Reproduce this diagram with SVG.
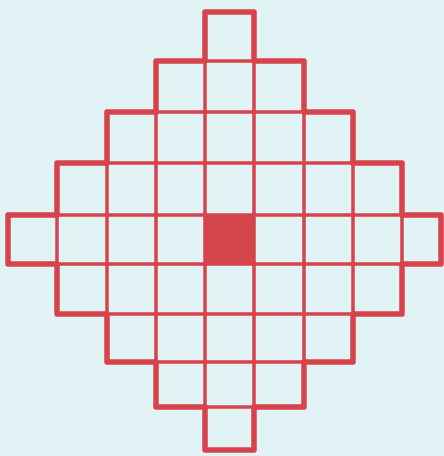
<svg xmlns="http://www.w3.org/2000/svg" width="444" height="456" viewBox="0 0 444 456">
<style>
.c{fill:none;stroke:#d8434b;stroke-width:3}
.o{fill:none;stroke:#d8434b;stroke-width:5.5;stroke-linejoin:round}
.f{fill:#d4474d;stroke:#d8434b;stroke-width:3}
</style>
<rect width="444" height="456" fill="#e2f3f5"/>
<g id="grid">
<rect class="c" x="205" y="12" width="49" height="49"/>
<rect class="c" x="156" y="61" width="49" height="51"/><rect class="c" x="205" y="61" width="49" height="51"/><rect class="c" x="254" y="61" width="50" height="51"/>
<rect class="c" x="107" y="112" width="49" height="51"/><rect class="c" x="156" y="112" width="49" height="51"/><rect class="c" x="205" y="112" width="49" height="51"/><rect class="c" x="254" y="112" width="50" height="51"/><rect class="c" x="304" y="112" width="49" height="51"/>
<rect class="c" x="57" y="163" width="50" height="52"/><rect class="c" x="107" y="163" width="49" height="52"/><rect class="c" x="156" y="163" width="49" height="52"/><rect class="c" x="205" y="163" width="49" height="52"/><rect class="c" x="254" y="163" width="50" height="52"/><rect class="c" x="304" y="163" width="49" height="52"/><rect class="c" x="353" y="163" width="49" height="52"/>
<rect class="c" x="8" y="215" width="49" height="49"/><rect class="c" x="57" y="215" width="50" height="49"/><rect class="c" x="107" y="215" width="49" height="49"/><rect class="c" x="156" y="215" width="49" height="49"/><rect class="f" x="205" y="215" width="49" height="49"/><rect class="c" x="254" y="215" width="50" height="49"/><rect class="c" x="304" y="215" width="49" height="49"/><rect class="c" x="353" y="215" width="49" height="49"/><rect class="c" x="402" y="215" width="39" height="49"/>
<rect class="c" x="57" y="264" width="50" height="50"/><rect class="c" x="107" y="264" width="49" height="50"/><rect class="c" x="156" y="264" width="49" height="50"/><rect class="c" x="205" y="264" width="49" height="50"/><rect class="c" x="254" y="264" width="50" height="50"/><rect class="c" x="304" y="264" width="49" height="50"/><rect class="c" x="353" y="264" width="49" height="50"/>
<rect class="c" x="107" y="314" width="49" height="48"/><rect class="c" x="156" y="314" width="49" height="48"/><rect class="c" x="205" y="314" width="49" height="48"/><rect class="c" x="254" y="314" width="50" height="48"/><rect class="c" x="304" y="314" width="49" height="48"/>
<rect class="c" x="156" y="362" width="49" height="45"/><rect class="c" x="205" y="362" width="49" height="45"/><rect class="c" x="254" y="362" width="50" height="45"/>
<rect class="c" x="205" y="407" width="49" height="43"/>
</g>
<g id="outline">
<polygon class="o" points="205,12 254,12 254,61 304,61 304,112 353,112 353,163 402,163 402,215 441,215 441,264 402,264 402,314 353,314 353,362 304,362 304,407 254,407 254,450 205,450 205,407 156,407 156,362 107,362 107,314 57,314 57,264 8,264 8,215 57,215 57,163 107,163 107,112 156,112 156,61 205,61"/>
</g>
</svg>
